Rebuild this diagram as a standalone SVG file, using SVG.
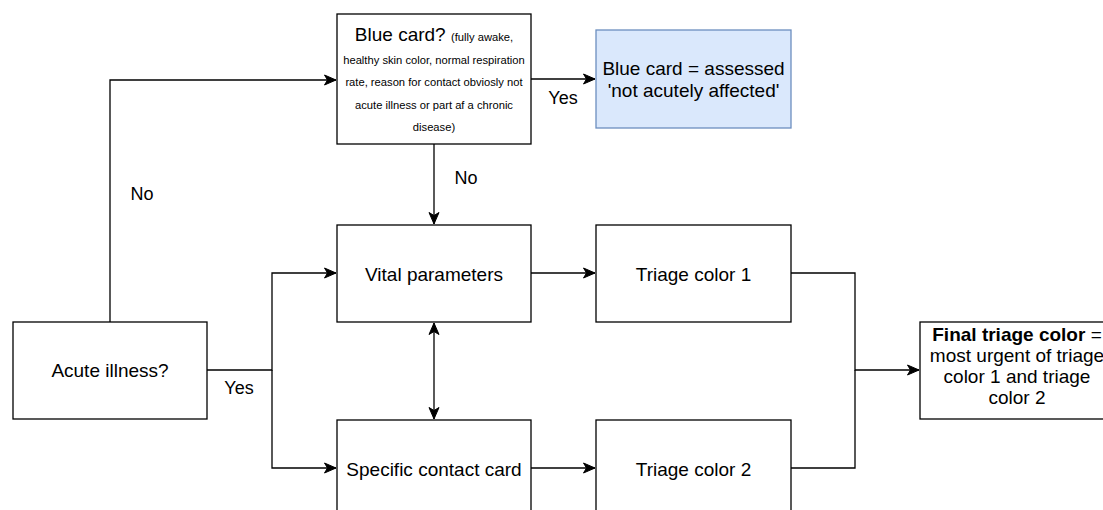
<svg xmlns="http://www.w3.org/2000/svg" width="1103" height="510" viewBox="0 0 1103 510">
<style>
.box{fill:#fff;stroke:#000;stroke-width:1.3}
.blue{fill:#dae8fc;stroke:#6c8ebf;stroke-width:1.3}
.t{font-family:"Liberation Sans",Arial,sans-serif;font-size:19px;fill:#000;text-anchor:middle}
.s{font-size:11.2px}
.lbl{font-family:"Liberation Sans",Arial,sans-serif;font-size:18px;fill:#000;text-anchor:middle}
.e{fill:none;stroke:#000;stroke-width:1.3}
</style>
<defs>
<marker id="arr" markerUnits="userSpaceOnUse" markerWidth="13" markerHeight="12" refX="12" refY="6" orient="auto">
<path d="M0.5,1 L12,6 L0.5,11 L3.5,6 Z" fill="#000" stroke="#000" stroke-width="1"/>
</marker>
<marker id="arrS" markerUnits="userSpaceOnUse" markerWidth="13" markerHeight="12" refX="1" refY="6" orient="auto">
<path d="M12.5,1 L1,6 L12.5,11 L9.5,6 Z" fill="#000" stroke="#000" stroke-width="1"/>
</marker>
</defs>
<rect width="1103" height="510" fill="#fff"/>
<g id="connectors">
<path class="e" d="M110,322 V80 H336" marker-end="url(#arr)"/>
<path class="e" d="M531,79 H595" marker-end="url(#arr)"/>
<path class="e" d="M434,144 V224" marker-end="url(#arr)"/>
<path class="e" d="M207,370 H272 V273 H336" marker-end="url(#arr)"/>
<path class="e" d="M272,370 V468 H336" marker-end="url(#arr)"/>
<path class="e" d="M434,323 V419" marker-start="url(#arrS)" marker-end="url(#arr)"/>
<path class="e" d="M531,273 H595" marker-end="url(#arr)"/>
<path class="e" d="M531,468 H595" marker-end="url(#arr)"/>
<path class="e" d="M791,273 H855 V370 H919" marker-end="url(#arr)"/>
<path class="e" d="M791,468 H855 V370"/>
<text class="lbl" x="142" y="200">No</text>
<text class="lbl" x="466" y="184">No</text>
<text class="lbl" x="563" y="104">Yes</text>
<text class="lbl" x="239" y="394">Yes</text>
</g>
<g id="acute">
<rect class="box" x="13" y="322" width="194" height="97"/>
<text class="t" x="110" y="377">Acute illness?</text>
</g>
<g id="bluecardq">
<rect class="box" x="337" y="14" width="194" height="130"/>
<text class="t" x="434" y="41">Blue card? <tspan class="s">(fully awake,</tspan></text>
<text class="t s" x="434" y="64">healthy skin color, normal respiration</text>
<text class="t s" x="434" y="86">rate, reason for contact obviosly not</text>
<text class="t s" x="434" y="108.5">acute illness or part af a chronic</text>
<text class="t s" x="434" y="130.5">disease)</text>
</g>
<g id="bluecard">
<rect class="blue" x="596" y="30" width="195" height="98"/>
<text class="t" x="693.5" y="75">Blue card = assessed</text>
<text class="t" x="693.5" y="97">'not acutely affected'</text>
</g>
<g id="vital">
<rect class="box" x="337" y="225" width="194" height="97"/>
<text class="t" x="434" y="281">Vital parameters</text>
</g>
<g id="triage1">
<rect class="box" x="596" y="225" width="195" height="97"/>
<text class="t" x="693.5" y="281">Triage color 1</text>
</g>
<g id="contact">
<rect class="box" x="337" y="420" width="194" height="97"/>
<text class="t" x="434" y="476">Specific contact card</text>
</g>
<g id="triage2">
<rect class="box" x="596" y="420" width="195" height="97"/>
<text class="t" x="693.5" y="476">Triage color 2</text>
</g>
<g id="final">
<rect class="box" x="920" y="322" width="194" height="97"/>
<text class="t" x="1017" y="341"><tspan font-weight="bold">Final triage color</tspan> =</text>
<text class="t" x="1017" y="362">most urgent of triage</text>
<text class="t" x="1017" y="383">color 1 and triage</text>
<text class="t" x="1017" y="404">color 2</text>
</g>
</svg>
